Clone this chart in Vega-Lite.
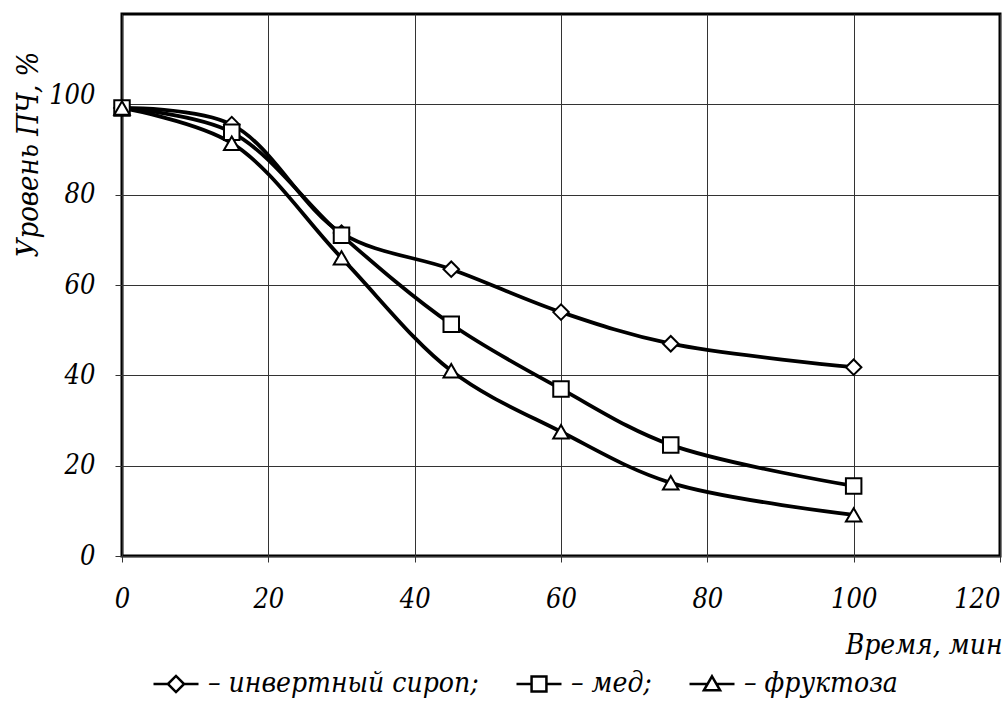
{
  "$schema": "https://vega.github.io/schema/vega-lite/v6.json",
  "width": 878,
  "height": 542,
  "autosize": {"type": "none"},
  "padding": {"left": 122, "top": 14, "right": 7, "bottom": 148},
  "background": "white",
  "config": {
    "view": {"stroke": "black", "strokeWidth": 3},
    "font": "DejaVu Serif Condensed, DejaVu Serif",
    "axis": {"labelFont": "DejaVu Serif Condensed, DejaVu Serif", "titleFont": "DejaVu Serif Condensed, DejaVu Serif"},
    "legend": {"labelFont": "DejaVu Serif Condensed, DejaVu Serif"}
  },
  "data": {
    "values": [
      {"t": 0, "v": 99.2, "series": "инвертный сироп"},
      {"t": 15, "v": 95.5, "series": "инвертный сироп"},
      {"t": 30, "v": 71.5, "series": "инвертный сироп"},
      {"t": 45, "v": 63.5, "series": "инвертный сироп"},
      {"t": 60, "v": 54, "series": "инвертный сироп"},
      {"t": 75, "v": 47, "series": "инвертный сироп"},
      {"t": 100, "v": 41.8, "series": "инвертный сироп"},
      {"t": 0, "v": 99.2, "series": "мед"},
      {"t": 15, "v": 93.8, "series": "мед"},
      {"t": 30, "v": 71, "series": "мед"},
      {"t": 45, "v": 51.3, "series": "мед"},
      {"t": 60, "v": 37, "series": "мед"},
      {"t": 75, "v": 24.6, "series": "мед"},
      {"t": 100, "v": 15.5, "series": "мед"},
      {"t": 0, "v": 99.2, "series": "фруктоза"},
      {"t": 15, "v": 91.4, "series": "фруктоза"},
      {"t": 30, "v": 66, "series": "фруктоза"},
      {"t": 45, "v": 41, "series": "фруктоза"},
      {"t": 60, "v": 27.5, "series": "фруктоза"},
      {"t": 75, "v": 16.2, "series": "фруктоза"},
      {"t": 100, "v": 9.1, "series": "фруктоза"}
    ]
  },
  "encoding": {
    "x": {
      "field": "t",
      "type": "quantitative",
      "scale": {"domain": [0, 120], "nice": false, "zero": false},
      "axis": {
        "values": [0, 20, 40, 60, 80, 100, 120],
        "grid": true,
        "gridColor": "#333333",
        "gridWidth": 1,
        "domain": false,
        "ticks": true,
        "tickSize": 6,
        "tickColor": "#333333",
        "labelFont": "DejaVu Serif Condensed, DejaVu Serif",
        "labelFontStyle": "italic",
        "labelFontSize": 27,
        "labelColor": "black",
        "labelBaseline": "alphabetic",
        "labelPadding": 45,
        "labelAlign": {"condition": {"test": "datum.value == 120", "value": "right"}, "value": "center"},
        "title": "Время, мин",
        "titleFont": "DejaVu Serif Condensed, DejaVu Serif",
        "titleFontSize": 28,
        "titleFontStyle": "italic",
        "titleFontWeight": "normal",
        "titleColor": "black",
        "titleAlign": "right",
        "titleBaseline": "alphabetic",
        "titleX": 880,
        "titleY": 97
      }
    },
    "y": {
      "field": "v",
      "type": "quantitative",
      "scale": {"domain": [0, 120], "nice": false},
      "axis": {
        "values": [0, 20, 40, 60, 80, 100],
        "grid": true,
        "gridColor": "#333333",
        "gridWidth": 1,
        "domain": false,
        "ticks": true,
        "tickSize": 7,
        "tickColor": "#333333",
        "labelFont": "DejaVu Serif Condensed, DejaVu Serif",
        "labelFontStyle": "italic",
        "labelFontSize": 27,
        "labelColor": "black",
        "labelPadding": 20,
        "labelBaseline": "middle",
        "labelOffset": {"condition": {"test": "datum.value == 100", "value": -9}, "value": 0},
        "title": "Уровень ПЧ, %",
        "titleFont": "DejaVu Serif Condensed, DejaVu Serif",
        "titleFontSize": 29,
        "titleFontStyle": "italic",
        "titleFontWeight": "normal",
        "titleColor": "black",
        "titleAngle": -90,
        "titleAlign": "center",
        "titleBaseline": "alphabetic",
        "titleX": -85,
        "titleY": 140
      }
    }
  },
  "layer": [
    {
      "mark": {"type": "line", "interpolate": "catmull-rom", "stroke": "black", "strokeWidth": 3.8},
      "encoding": {"detail": {"field": "series"}}
    },
    {
      "mark": {"type": "point", "filled": true, "fill": "white", "stroke": "black", "strokeWidth": 2, "size": 240, "opacity": 1},
      "encoding": {
        "shape": {
          "field": "series",
          "type": "nominal",
          "scale": {"domain": ["инвертный сироп", "мед", "фруктоза"], "range": ["diamond", "square", "triangle-up"]},
          "legend": null
        }
      }
    },
    {
      "transform": [{"filter": "datum.t < 0"}],
      "mark": {"type": "point", "filled": false, "stroke": "black", "strokeWidth": 2.5, "opacity": 1},
      "encoding": {
        "shape": {
          "field": "series",
          "type": "nominal",
          "scale": {
            "domain": ["инвертный сироп", "мед", "фруктоза"],
            "range": [
              "M-1,0L-0.36,0M0.36,0L1,0M-0.36,0L0,-0.36L0.36,0L0,0.36Z",
              "M-1,0L-0.33,0M0.33,0L1,0M-0.33,-0.33L0.33,-0.33L0.33,0.33L-0.33,0.33Z",
              "M-1,0L-0.2,0M0.2,0L1,0M0,-0.34L0.36,0.28L-0.36,0.28Z"
            ]
          },
          "legend": {
            "orient": "none",
            "legendX": 30,
            "legendY": 646,
            "direction": "horizontal",
            "title": null,
            "symbolSize": 2025,
            "symbolStrokeWidth": 2.5,
            "symbolStrokeColor": "black",
            "symbolFillColor": "white",
            "symbolOpacity": 1,
            "labelFont": "DejaVu Serif Condensed, DejaVu Serif",
            "labelFontStyle": "italic",
            "labelFontSize": 28,
            "labelColor": "black",
            "labelOffset": 8,
            "labelLimit": 0,
            "columnPadding": 32,
            "labelExpr": "datum.label == 'фруктоза' ? '– фруктоза' : '– ' + datum.label + ';'",
            "encode": {
              "symbols": {
                "update": {
                  "stroke": {"value": "black"},
                  "fill": {"value": "white"},
                  "strokeWidth": {"value": 2.8},
                  "opacity": {"value": 1}
                }
              }
            }
          }
        }
      }
    }
  ],
  "resolve": {"scale": {"shape": "independent"}}
}
